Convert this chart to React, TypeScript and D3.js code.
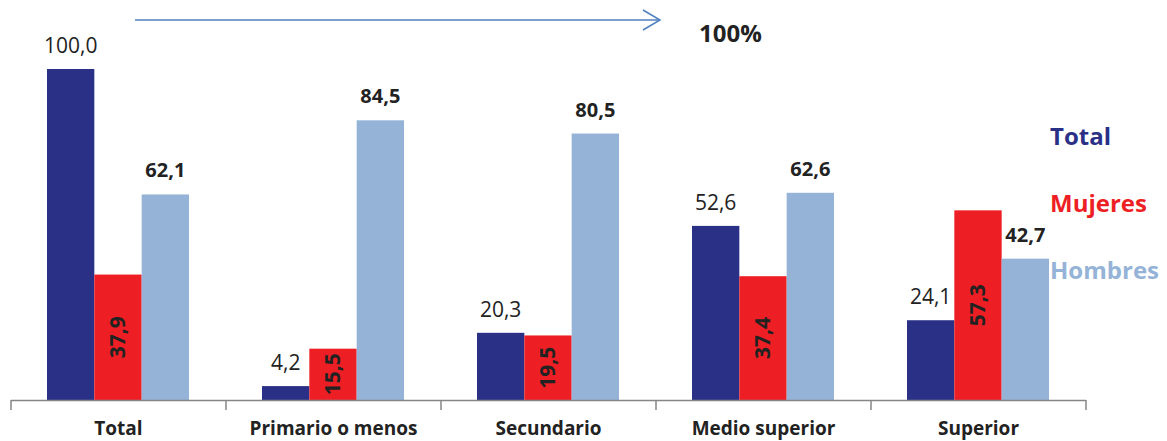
import { useEffect, useRef } from 'react';
import * as d3 from 'd3';

const categories = ['Total', 'Primario o menos', 'Secundario', 'Medio superior', 'Superior'];
const totalValues = [100.0, 4.2, 20.3, 52.6, 24.1];
const mujeresValues = [37.9, 15.5, 19.5, 37.4, 57.3];
const hombresValues = [62.1, 84.5, 80.5, 62.6, 42.7];
const seriesNames = ['Total', 'Mujeres', 'Hombres'];
const colors = ['#2b3087', '#ed1f24', '#95b3d7'];

const fmt = (v: number) => v.toFixed(1).replace('.', ',');
const FONT = "'Open Sans', 'Noto Sans', sans-serif";

export default function App() {
  const svgRef = useRef<SVGSVGElement>(null);

  useEffect(() => {
    if (!svgRef.current) return;
    document.body.style.margin = '0';
    d3.select(svgRef.current).selectAll('*').remove();

    const width = 1167;
    const height = 441;
    const baseY = 400;

    const svg = d3.select(svgRef.current).attr('width', width).attr('height', height);

    const x0 = d3.scaleBand<string>().domain(categories).range([11, 1086]).paddingInner(0).paddingOuter(0);
    const x1 = d3.scaleBand<string>().domain(seriesNames).range([36, x0.bandwidth() - 37]).padding(0);
    const y = d3.scaleLinear().domain([0, 100]).range([baseY, 69]);

    const series = [totalValues, mujeresValues, hombresValues];

    // bars
    series.forEach((vals, s) => {
      svg
        .append('g')
        .selectAll('rect')
        .data(vals)
        .join('rect')
        .attr('x', (d, i) => (x0(categories[i]) as number) + (x1(seriesNames[s]) as number))
        .attr('y', d => y(d))
        .attr('width', x1.bandwidth())
        .attr('height', d => baseY - y(d))
        .attr('fill', colors[s]);
    });

    // total labels (regular, above)
    totalValues.forEach((d, i) => {
      const cx = (x0(categories[i]) as number) + (x1('Total') as number) + x1.bandwidth() / 2;
      svg
        .append('text')
        .attr('x', cx)
        .attr('y', y(d) - 16)
        .attr('text-anchor', 'middle')
        .attr('font-family', FONT)
        .attr('font-size', 21)
        .attr('fill', '#222')
        .text(fmt(d));
    });

    // mujeres labels (rotated, inside bar)
    mujeresValues.forEach((d, i) => {
      const cx = (x0(categories[i]) as number) + (x1('Mujeres') as number) + x1.bandwidth() / 2;
      const cy = (y(d) + baseY) / 2;
      svg
        .append('text')
        .attr('transform', `translate(${cx + 7},${cy}) rotate(-90)`)
        .attr('text-anchor', 'middle')
        .attr('font-family', FONT)
        .attr('font-weight', 'bold')
        .attr('font-size', 21)
        .attr('fill', '#222')
        .text(fmt(d));
    });

    // hombres labels (bold, above)
    hombresValues.forEach((d, i) => {
      const cx = (x0(categories[i]) as number) + (x1('Hombres') as number) + x1.bandwidth() / 2;
      svg
        .append('text')
        .attr('x', cx)
        .attr('y', y(d) - 17)
        .attr('text-anchor', 'middle')
        .attr('font-family', FONT)
        .attr('font-weight', 'bold')
        .attr('font-size', 20)
        .attr('fill', '#222')
        .text(fmt(d));
    });

    // x axis
    const axisG = svg.append('g');
    axisG
      .append('line')
      .attr('x1', 11)
      .attr('x2', 1086)
      .attr('y1', baseY + 0.5)
      .attr('y2', baseY + 0.5)
      .attr('stroke', '#868686')
      .attr('stroke-width', 1.5);
    const edges = categories.map(c => x0(c) as number).concat([1086]);
    edges.forEach(ex => {
      axisG
        .append('line')
        .attr('x1', ex)
        .attr('x2', ex)
        .attr('y1', baseY)
        .attr('y2', baseY + 10)
        .attr('stroke', '#868686')
        .attr('stroke-width', 1.5);
    });
    categories.forEach(c => {
      axisG
        .append('text')
        .attr('x', (x0(c) as number) + x0.bandwidth() / 2)
        .attr('y', 435)
        .attr('text-anchor', 'middle')
        .attr('font-family', FONT)
        .attr('font-weight', 'bold')
        .attr('font-size', 19)
        .attr('fill', '#222')
        .text(c);
    });

    // legend
    const legendY = [145, 212, 279];
    seriesNames.forEach((n, i) => {
      svg
        .append('text')
        .attr('x', 1050)
        .attr('y', legendY[i])
        .attr('font-family', FONT)
        .attr('font-weight', 'bold')
        .attr('font-size', 24)
        .attr('fill', colors[i])
        .text(n);
    });

    // arrow + 100%
    const arrow = svg.append('g').attr('stroke', '#4f81bd').attr('stroke-width', 1.5).attr('fill', 'none');
    arrow.append('line').attr('x1', 135).attr('x2', 660).attr('y1', 20).attr('y2', 20);
    arrow.append('path').attr('d', 'M643,10 L660,20 L643,30');
    svg
      .append('text')
      .attr('x', 699)
      .attr('y', 42)
      .attr('font-family', FONT)
      .attr('font-weight', 'bold')
      .attr('font-size', 24)
      .attr('fill', '#222')
      .text('100%');
  }, []);

  return <svg ref={svgRef} style={{ display: 'block' }}></svg>;
}
